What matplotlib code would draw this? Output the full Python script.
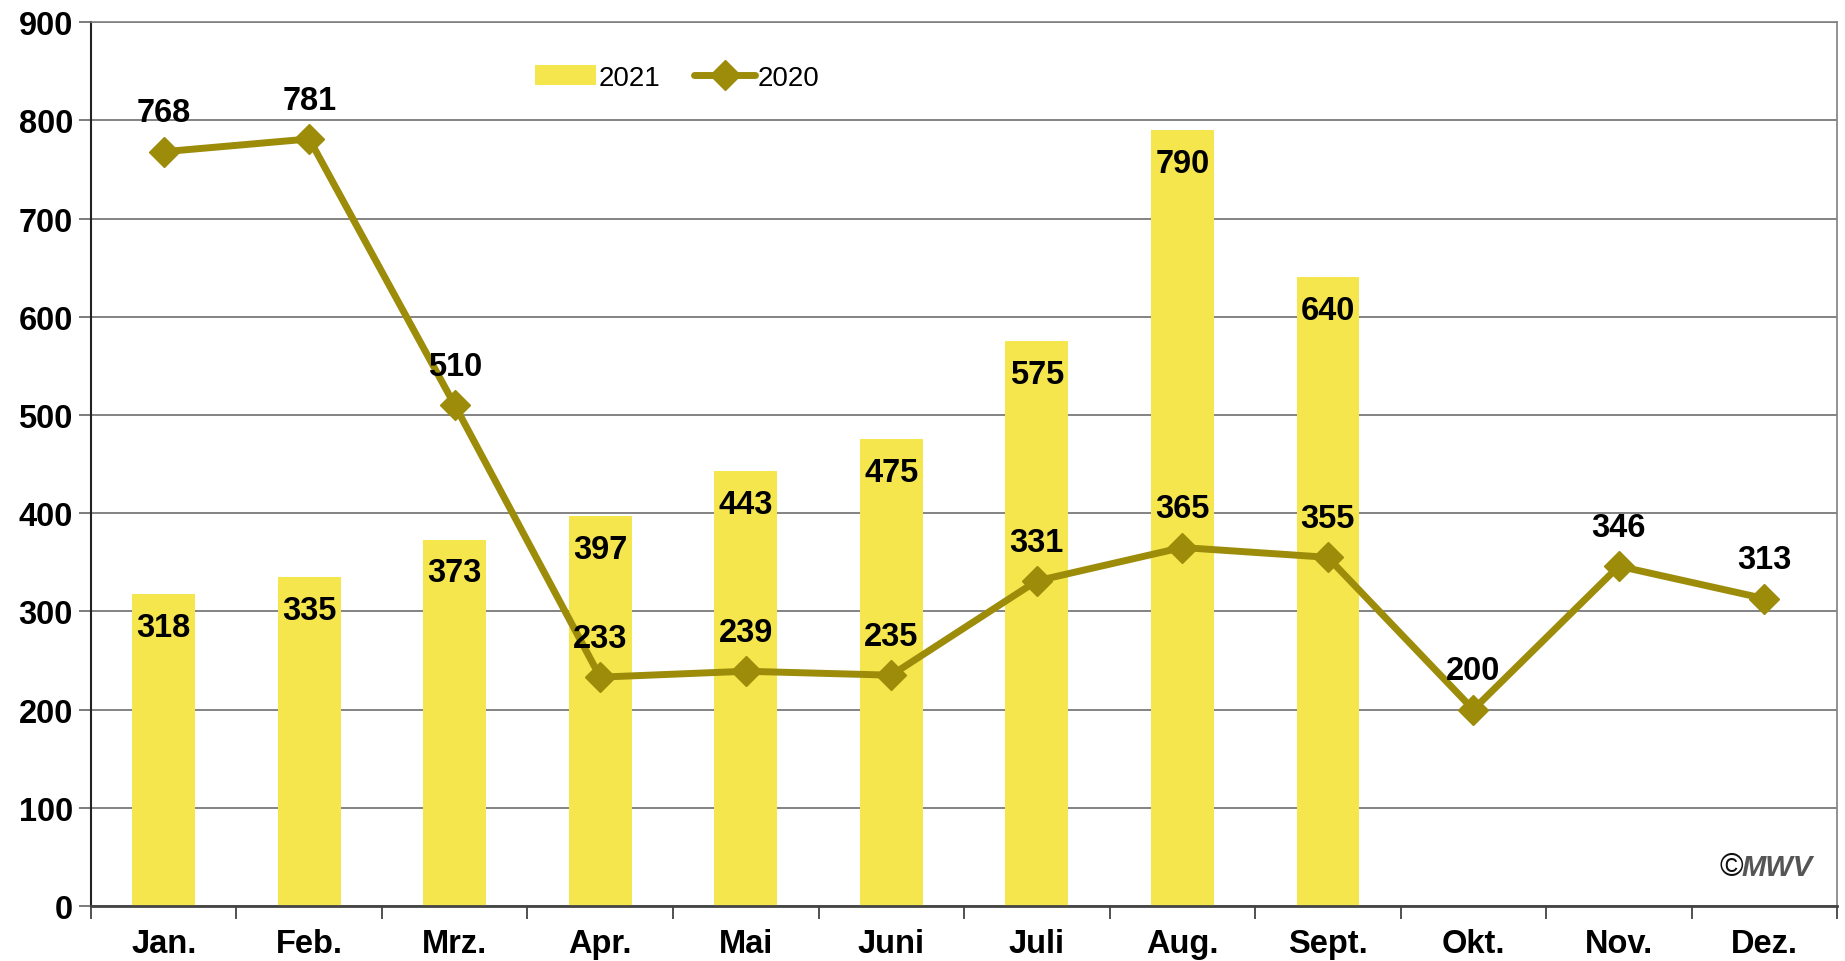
import matplotlib.pyplot as plt
import numpy as np

months = ["Jan.", "Feb.", "Mrz.", "Apr.", "Mai", "Juni", "Juli", "Aug.", "Sept.", "Okt.", "Nov.", "Dez."]
values_2021 = [318, 335, 373, 397, 443, 475, 575, 790, 640]
values_2020 = [768, 781, 510, 233, 239, 235, 331, 365, 355, 200, 346, 313]
y_ticks = [0, 100, 200, 300, 400, 500, 600, 700, 800, 900]

bar_color = "#F5E64E"
line_color = "#9C8C0A"

plt.rcParams['font.family'] = ['Liberation Sans', 'DejaVu Sans']

fig = plt.figure(figsize=(18.45, 9.62), dpi=100)
ax = fig.add_axes([0.0493, 0.0572, 0.9464, 0.9188])

x = np.arange(len(months))
x21 = x[:len(values_2021)]

bars = ax.bar(x21, values_2021, width=0.43, color=bar_color, zorder=2, label="2021")
line, = ax.plot(x, values_2020, color=line_color, lw=5, marker="D", markersize=15,
                solid_capstyle="round", zorder=3, label="2020")

fs = 23.5
for xi, v in zip(x21, values_2021):
    ax.annotate(str(v), (xi, v), xytext=(0, -24), textcoords="offset points",
                ha="center", va="center", fontsize=fs, fontweight="bold", zorder=4)
for xi, v in zip(x, values_2020):
    ax.annotate(str(v), (xi, v), xytext=(0, 28), textcoords="offset points",
                ha="center", va="center", fontsize=fs, fontweight="bold", zorder=4)

ax.set_xlim(-0.5, len(months) - 0.5)
ax.set_ylim(0, 900)
ax.set_yticks(y_ticks)
ax.set_yticklabels([str(t) for t in y_ticks], fontsize=fs, fontweight="bold")
ax.set_xticks(x)
ax.set_xticklabels(months, fontsize=fs, fontweight="bold")
ax.tick_params(axis="x", which="major", length=0, pad=16)
ax.set_xticks(np.arange(-0.5, len(months), 1), minor=True)
ax.tick_params(axis="x", which="minor", length=9, width=1.2, color="#333333", direction="out")
ax.tick_params(axis="y", length=9, width=1.2, color="#666666", pad=4)

ax.grid(axis="y", color="#6e6e6e", lw=1.2, zorder=1)
ax.set_axisbelow(True)
for side in ["top", "right"]:
    ax.spines[side].set_color("#808080")
    ax.spines[side].set_linewidth(1.2)
ax.spines["left"].set_color("#222222")
ax.spines["bottom"].set_color("#444444")
ax.spines["left"].set_linewidth(1.5)
ax.spines["bottom"].set_linewidth(2)

ax.legend([bars, line], ["2021", "2020"], loc="upper left", bbox_to_anchor=(0.24, 0.98),
          ncol=2, frameon=False, fontsize=20, handlelength=2.2, handletextpad=0.1,
          columnspacing=1.2)

# watermark
ax.text(0.986, 0.044, "MWV", transform=ax.transAxes, ha="right", va="center",
        fontsize=21, fontweight="bold", fontstyle="italic", color="#555555")
ax.text(0.946, 0.044, "\u00a9", transform=ax.transAxes, ha="right", va="center",
        fontsize=23, color="#111111")

fig.savefig("out.png", dpi=100)
